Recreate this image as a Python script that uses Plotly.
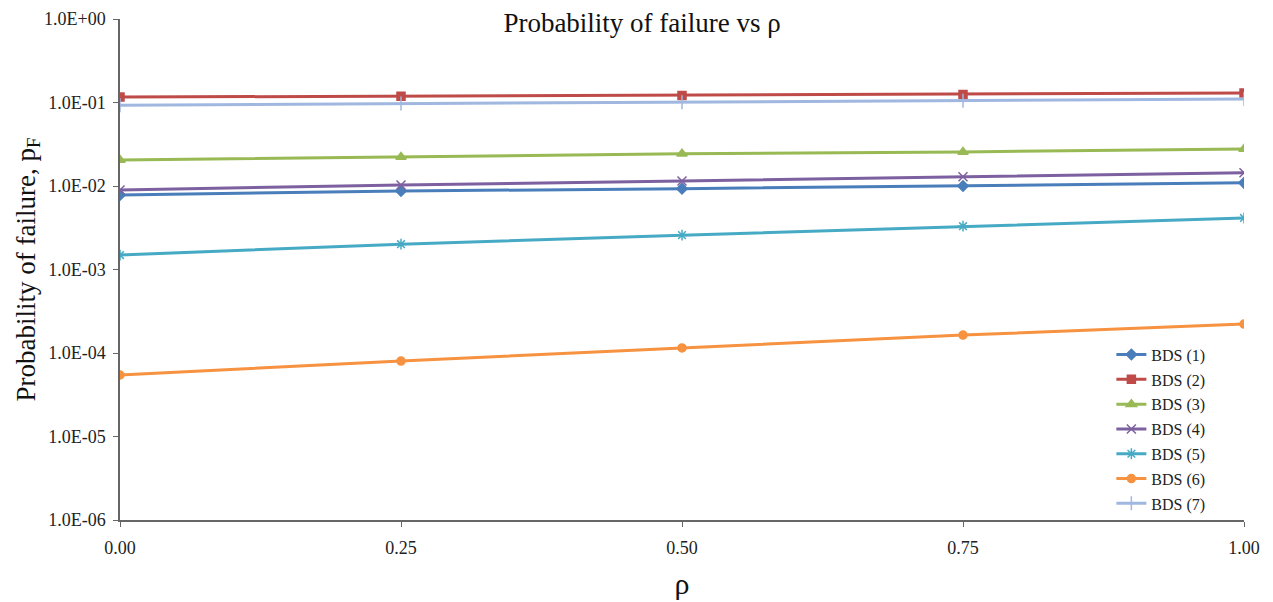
import plotly.graph_objects as go

rho = [0.0, 0.25, 0.5, 0.75, 1.0]
series_names = ["BDS (1)", "BDS (2)", "BDS (3)", "BDS (4)", "BDS (5)", "BDS (6)", "BDS (7)"]
bds1 = [0.0078, 0.0087, 0.0093, 0.0100, 0.0109]
bds2 = [0.116, 0.119, 0.121, 0.125, 0.130]
bds3 = [0.0205, 0.0222, 0.0243, 0.0256, 0.0278]
bds4 = [0.00895, 0.0103, 0.0115, 0.0129, 0.0144]
bds5 = [0.00149, 0.00201, 0.00258, 0.00330, 0.00414]
bds6 = [5.45e-5, 8.0e-5, 1.15e-4, 1.64e-4, 2.22e-4]
bds7 = [0.093, 0.097, 0.101, 0.105, 0.110]
values = [bds1, bds2, bds3, bds4, bds5, bds6, bds7]

y_tickvals = [1e0, 1e-1, 1e-2, 1e-3, 1e-4, 1e-5, 1e-6]
y_ticktext = ["1.0E+00", "1.0E-01", "1.0E-02", "1.0E-03", "1.0E-04", "1.0E-05", "1.0E-06"]
x_tickvals = [0.0, 0.25, 0.5, 0.75, 1.0]
x_ticktext = ["0.00", "0.25", "0.50", "0.75", "1.00"]

colors = ["#4A7EBB", "#BE4B48", "#98B954", "#7D60A0", "#46AAC5", "#F69240", "#A0B7E0"]
symbols = ["diamond", "square", "triangle-up", "x-thin", "asterisk", "circle", "line-ns"]
sizes = [8, 8, 9, 9, 9, 8, 10]

FONT = "Liberation Serif, Times New Roman, serif"
fig = go.Figure()
for i, (name, vals) in enumerate(zip(series_names, values)):
    fig.add_trace(go.Scatter(
        x=rho, y=vals, name=name, mode="lines+markers",
        legendgroup=name,
        line=dict(color=colors[i], width=3),
        marker=dict(symbol=symbols[i], size=sizes[i], color=colors[i],
                    line=dict(color=colors[i], width=1.5)),
    ))

fig.update_layout(
    width=1266, height=594,
    margin=dict(l=112, r=30, t=11, b=82, autoexpand=False),
    plot_bgcolor="white", paper_bgcolor="white",
    font=dict(family=FONT, color="#222222"),
    title=dict(text="Probability of failure vs ρ", x=0.4645, xref="paper", xanchor="center",
               y=0.975, yref="container", yanchor="middle",
               font=dict(family=FONT, size=27, color="#111111")),
    showlegend=True,
    legend=dict(x=0.882, y=0.364, xanchor="left", yanchor="top",
                font=dict(family=FONT, size=16, color="#222222"),
                bgcolor="rgba(0,0,0,0)", tracegroupgap=1,
                itemwidth=30),
    xaxis=dict(range=[0, 1], tickvals=x_tickvals, ticktext=x_ticktext,
               showgrid=False, zeroline=False, showline=True, linecolor="#666666", linewidth=1.5,
               ticks="outside", ticklen=5, tickcolor="#666666", ticklabelstandoff=6,
               tickfont=dict(family=FONT, size=18, color="#222222"),
               title=dict(text="ρ", font=dict(family=FONT, size=30, color="#111111"), standoff=16)),
    yaxis=dict(type="log", range=[-6, 0], tickvals=y_tickvals, ticktext=y_ticktext,
               showgrid=False, zeroline=False, showline=True, linecolor="#666666", linewidth=1.5,
               ticks="outside", ticklen=5, tickcolor="#666666", ticklabelstandoff=4,
               tickfont=dict(family=FONT, size=18, color="#222222"),
               title=dict(text="Probability of failure, p<sub>F</sub>",
                          font=dict(family=FONT, size=27, color="#111111"), standoff=1)),
)

fig.write_html("out.html")
